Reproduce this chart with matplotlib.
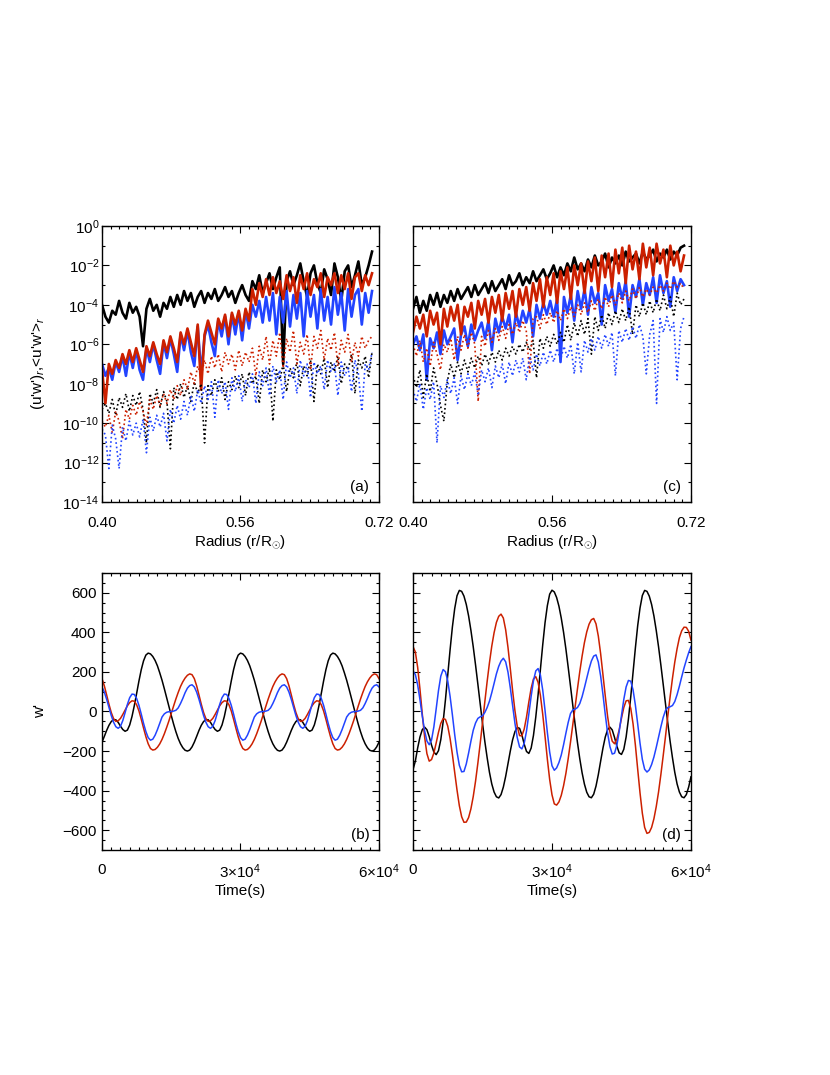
import numpy as np
import matplotlib
matplotlib.use("Agg")
import matplotlib.pyplot as plt
from matplotlib.ticker import FixedLocator, MultipleLocator, LogFormatterMathtext, NullFormatter, FixedFormatter

plt.rcParams['font.family'] = ['Liberation Sans', 'DejaVu Sans']
plt.rcParams['mathtext.fontset'] = 'custom'
plt.rcParams['mathtext.rm'] = 'Liberation Sans'
plt.rcParams['mathtext.it'] = 'Liberation Sans:italic'

RED = '#cc2000'
BLUE = '#2244ff'

# ---- top panels: log10 of flux profiles vs radius (r/Rsun)
radius = np.linspace(0.400, 0.712, 80)

a_black = [-4.0, -4.6, -4.9, -4.3, -4.5, -3.8, -4.4, -4.7, -3.9, -4.4,
           -4.1, -4.6, -6.1, -4.2, -3.7, -4.3, -4.0, -4.6, -3.9, -4.2,
           -3.6, -4.1, -3.5, -4.0, -3.3, -3.8, -3.4, -4.1, -3.6, -3.3,
           -3.9, -3.4, -3.7, -3.2, -3.8, -3.5, -3.1, -3.6, -3.3, -3.9,
           -3.4, -3.0, -3.5, -3.8, -2.8, -3.2, -2.5, -3.4, -2.9, -2.4,
           -3.2, -2.6, -2.1, -7.0, -2.8, -2.3, -3.0, -2.5, -1.9, -2.8,
           -3.6, -2.4, -2.0, -2.9, -3.4, -2.2, -2.7, -3.5, -1.9, -2.6,
           -3.8, -2.3, -2.0, -3.1, -2.5, -1.8, -3.0, -2.6, -2.0, -1.3]
a_red = [-7.3, -9.0, -7.0, -7.5, -6.8, -7.2, -6.5, -7.0, -6.3, -6.9,
         -6.2, -6.8, -7.4, -6.1, -6.6, -5.9, -6.5, -7.0, -5.8, -6.4,
         -5.6, -6.2, -6.9, -5.4, -6.0, -5.2, -5.9, -6.6, -5.0, -8.3,
         -5.5, -4.8, -5.4, -6.0, -4.7, -5.2, -4.5, -5.6, -4.4, -5.0,
         -4.3, -5.3, -4.2, -4.8, -3.2, -4.0, -2.9, -3.6, -2.7, -3.5,
         -2.6, -3.4, -2.8, -3.7, -2.5, -3.3, -2.6, -3.9, -2.5, -3.2,
         -2.4, -3.5, -2.7, -3.1, -2.4, -3.6, -2.6, -3.0, -2.4, -3.4,
         -2.5, -3.2, -2.4, -3.7, -2.6, -2.4, -3.3, -2.5, -3.0, -2.4]
a_blue = [-7.0, -7.6, -7.2, -7.8, -6.9, -7.4, -6.6, -7.6, -6.4, -7.2,
          -6.3, -7.3, -7.8, -6.2, -6.9, -6.0, -6.8, -7.5, -5.9, -6.7,
          -5.7, -6.5, -7.4, -5.5, -6.3, -5.3, -6.4, -7.1, -5.1, -7.5,
          -5.6, -5.0, -5.9, -6.6, -4.8, -5.6, -4.6, -6.0, -4.5, -5.5,
          -4.4, -5.8, -4.3, -5.2, -4.0, -4.6, -3.8, -4.9, -3.6, -4.8,
          -3.4, -5.5, -3.6, -4.9, -3.3, -5.1, -3.5, -4.7, -3.4, -5.6,
          -3.3, -4.6, -3.5, -5.2, -3.2, -4.8, -3.6, -5.0, -3.1, -4.5,
          -3.4, -5.3, -3.2, -4.6, -3.5, -3.2, -5.0, -3.4, -4.4, -3.3]
a_black_dot = [-9.3, -9.0, -9.5, -8.8, -9.6, -8.7, -9.2, -8.5, -9.4, -8.6,
               -9.1, -8.4, -9.3, -11.0, -8.5, -9.0, -8.3, -9.2, -8.4, -8.9,
               -11.3, -8.2, -8.8, -8.0, -8.7, -8.1, -8.9, -7.9, -8.5, -8.0,
               -11.0, -8.1, -8.6, -7.8, -8.4, -7.7, -8.8, -7.9, -8.3, -7.6,
               -8.2, -7.5, -8.6, -7.4, -8.0, -7.6, -9.0, -7.3, -7.9, -7.2,
               -9.9, -7.3, -7.8, -7.0, -8.4, -7.2, -7.7, -6.9, -8.1, -7.1,
               -7.6, -6.8, -8.9, -7.0, -7.5, -6.7, -8.2, -6.9, -7.4, -6.6,
               -8.0, -7.0, -7.3, -6.5, -8.5, -6.8, -7.2, -6.6, -7.7, -6.4]
a_red_dot = [-9.9, -10.2, -9.6, -10.5, -9.4, -9.9, -10.8, -9.3, -9.8, -9.1,
             -9.6, -8.9, -9.4, -10.1, -8.8, -9.3, -8.6, -9.1, -8.5, -9.0,
             -8.3, -8.8, -8.1, -8.6, -7.8, -8.3, -7.4, -8.0, -7.1, -7.6,
             -6.8, -7.5, -6.6, -7.2, -6.5, -7.4, -6.4, -7.0, -6.5, -7.3,
             -6.3, -7.1, -6.4, -6.9, -6.2, -7.6, -6.1, -6.8, -5.6, -7.0,
             -5.8, -6.6, -5.4, -7.2, -5.7, -6.4, -5.3, -7.0, -5.9, -6.5,
             -5.5, -7.3, -5.6, -6.2, -5.3, -6.8, -5.7, -6.3, -5.4, -7.1,
             -5.8, -6.4, -5.5, -6.9, -5.9, -6.6, -5.6, -6.2, -5.8, -5.6]
a_blue_dot = [-10.3, -10.6, -12.3, -10.1, -10.8, -12.3, -10.2, -10.9, -9.9, -10.6,
              -10.0, -10.7, -9.8, -11.5, -9.7, -10.4, -9.6, -10.2, -9.5, -10.9,
              -9.3, -10.0, -9.1, -9.8, -8.9, -9.6, -8.6, -9.4, -8.3, -9.0,
              -8.1, -8.8, -7.9, -9.7, -7.8, -8.5, -7.9, -9.3, -7.7, -8.4,
              -7.6, -8.9, -7.8, -8.2, -7.5, -9.0, -7.4, -8.1, -7.2, -8.6,
              -7.1, -7.9, -7.3, -8.8, -6.9, -7.7, -7.2, -8.5, -6.8, -7.6,
              -7.0, -8.7, -6.9, -7.5, -7.1, -8.3, -6.8, -7.4, -7.0, -8.6,
              -6.9, -7.6, -7.2, -8.4, -6.8, -7.5, -9.4, -7.0, -7.3, -6.4]

c_black = [-4.2, -3.6, -4.4, -3.8, -4.3, -3.5, -4.0, -3.4, -4.1, -3.5,
           -3.9, -3.3, -3.8, -3.2, -3.7, -3.4, -3.1, -3.6, -3.0, -3.5,
           -3.2, -2.9, -3.4, -2.8, -3.3, -3.0, -2.7, -3.2, -2.5, -3.0,
           -2.8, -2.4, -3.0, -2.6, -2.9, -2.3, -2.8, -2.5, -2.2, -2.7,
           -2.4, -2.0, -2.6, -2.1, -2.5, -1.9, -2.3, -1.6, -2.2, -1.9,
           -2.3, -1.7, -2.1, -1.5, -2.0, -1.8, -1.4, -2.1, -1.6, -1.9,
           -1.5, -2.0, -1.3, -1.8, -1.6, -1.4, -1.9, -1.3, -1.7, -1.5,
           -1.2, -1.8, -1.4, -1.6, -1.2, -1.7, -1.3, -1.5, -1.1, -1.0]
c_red = [-5.4, -4.6, -5.2, -4.5, -5.6, -4.3, -5.0, -4.4, -6.0, -4.2,
         -5.1, -4.1, -4.8, -4.0, -5.5, -4.1, -4.6, -3.9, -5.2, -3.8,
         -4.5, -3.7, -4.9, -3.6, -4.4, -3.5, -4.8, -3.4, -4.2, -3.3,
         -4.6, -3.2, -4.0, -3.1, -4.3, -2.9, -3.8, -2.7, -4.1, -2.6,
         -3.5, -2.4, -3.9, -2.3, -3.2, -2.1, -3.7, -2.0, -3.0, -1.9,
         -3.4, -1.8, -2.8, -1.6, -3.3, -1.5, -2.6, -1.4, -3.1, -1.2,
         -2.4, -1.1, -2.9, -1.0, -2.2, -1.3, -2.7, -0.9, -2.1, -1.1,
         -2.5, -0.9, -1.9, -1.2, -2.6, -1.0, -2.0, -1.3, -2.3, -1.5]
c_blue = [-6.0, -5.6, -6.3, -5.5, -7.8, -5.7, -6.2, -5.4, -6.5, -5.3,
          -6.0, -5.6, -5.2, -6.8, -5.5, -5.1, -6.1, -5.0, -5.8, -5.3,
          -4.9, -5.7, -4.8, -6.3, -4.7, -5.4, -4.6, -5.2, -4.5, -5.9,
          -4.4, -5.1, -4.3, -4.9, -4.2, -5.6, -4.0, -4.7, -3.9, -4.5,
          -3.8, -4.6, -3.7, -6.9, -3.6, -4.4, -3.5, -4.8, -3.3, -4.2,
          -3.2, -4.5, -3.1, -3.9, -3.4, -5.0, -3.0, -3.8, -3.2, -4.4,
          -2.9, -3.7, -2.8, -4.6, -3.0, -3.6, -2.7, -4.0, -2.9, -3.5,
          -2.6, -3.9, -2.5, -3.4, -2.8, -4.1, -2.6, -3.3, -2.7, -3.0]
c_black_dot = [-7.6, -8.2, -7.3, -8.7, -7.5, -8.4, -7.2, -8.0, -9.1, -9.9,
               -7.9, -7.0, -7.7, -6.9, -7.5, -6.8, -7.4, -6.7, -7.2, -6.6,
               -7.1, -6.5, -7.0, -6.4, -6.9, -6.3, -6.8, -6.2, -6.6, -6.1,
               -6.5, -6.0, -6.4, -5.9, -6.3, -5.8, -7.7, -5.7, -6.2, -5.6,
               -6.1, -5.5, -6.0, -5.4, -5.9, -5.0, -5.8, -4.9, -5.6, -4.8,
               -5.5, -4.7, -6.5, -4.6, -5.3, -4.5, -5.2, -4.4, -5.0, -4.3,
               -4.9, -4.2, -4.8, -4.1, -5.5, -4.0, -4.6, -3.9, -4.5, -3.8,
               -4.4, -3.7, -4.3, -3.5, -4.2, -3.6, -4.6, -3.4, -4.0, -3.7]
c_red_dot = [-6.0, -6.6, -5.8, -6.9, -6.2, -7.1, -5.9, -6.5, -7.3, -6.0,
             -6.4, -5.7, -6.8, -5.6, -6.3, -5.5, -6.2, -5.4, -6.0, -8.9,
             -5.6, -6.1, -5.3, -5.9, -5.2, -5.8, -5.1, -5.7, -5.0, -5.5,
             -4.9, -5.4, -4.8, -5.3, -7.5, -4.7, -4.6, -5.2, -4.5, -5.0,
             -4.4, -4.9, -4.3, -4.8, -4.2, -4.7, -4.1, -4.6, -4.0, -4.5,
             -3.9, -4.4, -3.8, -4.3, -3.7, -4.2, -3.6, -4.1, -3.5, -4.0,
             -3.4, -3.9, -3.3, -3.8, -3.2, -3.7, -3.1, -3.6, -3.2, -3.5,
             -3.1, -3.4, -3.0, -3.3, -2.9, -3.2, -2.8, -3.1, -2.9, -3.2]
c_blue_dot = [-8.3, -8.9, -8.0, -9.3, -8.2, -8.8, -7.9, -11.0, -8.1, -8.7,
              -7.8, -8.5, -7.7, -9.0, -7.6, -8.3, -7.5, -8.1, -7.4, -8.6,
              -7.3, -7.9, -7.2, -8.2, -7.1, -7.7, -7.0, -8.0, -6.9, -7.6,
              -6.8, -7.4, -6.7, -7.8, -6.6, -7.3, -6.5, -7.1, -6.4, -7.0,
              -6.3, -6.9, -6.2, -6.8, -6.1, -6.7, -6.0, -7.5, -5.9, -7.4,
              -5.8, -6.4, -5.7, -6.3, -5.6, -6.2, -5.5, -6.1, -5.4, -7.6,
              -5.3, -5.9, -5.2, -5.8, -5.1, -5.7, -5.0, -5.6, -7.5, -5.5,
              -4.8, -9.0, -4.7, -5.4, -4.6, -5.3, -4.9, -7.8, -5.2, -4.6]

# ---- bottom panels: w' time series, one sample every 500 s from t = 0
STEP = 500
b_black = [-155, -126, -96, -70, -51, -41, -42, -55, -74, -91,
           -100, -94, -68, -25, 30, 91, 154, 211, 256, 285,
           295, 291, 278, 258, 231, 196, 158, 115, 70, 25,
           -20, -63, -102, -136, -163, -183, -196, -200, -195, -179,
           -155, -126, -96, -70, -51, -41, -42, -55, -74, -91,
           -100, -94, -68, -25, 30, 91, 154, 211, 256, 285,
           295, 291, 278, 258, 231, 196, 158, 115, 70, 25,
           -20, -63, -102, -136, -163, -183, -196, -200, -195, -179,
           -155, -126, -96, -70, -51, -41, -42, -55, -74, -91,
           -100, -94, -68, -25, 30, 91, 154, 211, 256, 285,
           295, 291, 278, 258, 231, 196, 158, 115, 70, 25,
           -20, -63, -102, -136, -163, -183, -196, -200, -195, -179,
           -155]
b_red = [166, 130, 84, 37, -5, -36, -50, -47, -35, -15,
         7, 29, 45, 54, 52, 34, 3, -39, -84, -127,
         -163, -187, -195, -192, -181, -164, -141, -113, -81, -47,
         -10, 27, 63, 96, 126, 150, 169, 183, 190, 186,
         166, 130, 84, 37, -5, -36, -50, -47, -35, -15,
         7, 29, 45, 54, 52, 34, 3, -39, -84, -127,
         -163, -187, -195, -192, -181, -164, -141, -113, -81, -47,
         -10, 27, 63, 96, 126, 150, 169, 183, 190, 186,
         166, 130, 84, 37, -5, -36, -50, -47, -35, -15,
         7, 29, 45, 54, 52, 34, 3, -39, -84, -127,
         -163, -187, -195, -192, -181, -164, -141, -113, -81, -47,
         -10, 27, 63, 96, 126, 150, 169, 183, 190, 186,
         166]
b_blue = [124, 98, 62, 21, -20, -54, -77, -85, -75, -46,
          -6, 36, 70, 88, 86, 66, 31, -13, -60, -101,
          -132, -145, -140, -120, -92, -60, -28, -12, -4, -1,
          0, 2, 6, 18, 40, 66, 95, 118, 131, 135,
          124, 98, 62, 21, -20, -54, -77, -85, -75, -46,
          -6, 36, 70, 88, 86, 66, 31, -13, -60, -101,
          -132, -145, -140, -120, -92, -60, -28, -12, -4, -1,
          0, 2, 6, 18, 40, 66, 95, 118, 131, 135,
          124, 98, 62, 21, -20, -54, -77, -85, -75, -46,
          -6, 36, 70, 88, 86, 66, 31, -13, -60, -101,
          -132, -145, -140, -120, -92, -60, -28, -12, -4, -1,
          0, 2, 6, 18, 40, 66, 95, 118, 131, 135,
          124]

d_black = [-294, -251, -185, -129, -92, -79, -92, -127, -170, -205,
           -218, -198, -142, -53, 59, 185, 311, 427, 520, 585,
           612, 607, 583, 541, 483, 410, 327, 235, 138, 39,
           -59, -151, -233, -307, -366, -407, -431, -437, -420, -382,
           -328, -264, -200, -143, -102, -81, -85, -118, -165, -202,
           -212, -185, -121, -28, 84, 213, 337, 449, 535, 593,
           613, 604, 576, 532, 472, 400, 316, 223, 127, 29,
           -67, -157, -239, -310, -367, -408, -431, -436, -418, -377,
           -319, -251, -185, -129, -92, -79, -93, -131, -175, -209,
           -217, -191, -129, -38, 74, 198, 321, 434, 523, 586,
           612, 607, 583, 541, 483, 410, 327, 235, 138, 39,
           -59, -151, -233, -307, -366, -407, -431, -436, -420, -382,
           -330]
d_red = [328, 301, 224, 113, -12, -128, -213, -251, -243, -210,
         -159, -105, -60, -36, -40, -74, -136, -217, -308, -397,
         -476, -532, -560, -559, -536, -492, -430, -352, -261, -162,
         -57, 49, 151, 246, 330, 398, 450, 481, 492, 472,
         413, 324, 217, 105, 4, -75, -122, -123, -89, -28,
         48, 117, 164, 176, 147, 81, -14, -126, -241, -344,
         -421, -467, -473, -457, -424, -375, -313, -238, -154, -65,
         25, 115, 202, 280, 348, 402, 441, 464, 470, 443,
         381, 292, 186, 78, -24, -103, -150, -163, -140, -93,
         -34, 20, 54, 56, 16, -63, -170, -292, -411, -514,
         -586, -616, -611, -586, -542, -481, -407, -319, -224, -126,
         -23, 75, 167, 249, 317, 373, 408, 426, 425, 405,
         361]
d_blue = [205, 187, 135, 60, -23, -97, -149, -168, -144, -78,
          13, 106, 179, 212, 201, 154, 77, -17, -117, -205,
          -272, -305, -303, -265, -210, -150, -95, -58, -35, -27,
          -22, -5, 20, 52, 95, 142, 190, 228, 255, 269,
          251, 199, 120, 30, -59, -132, -179, -189, -161, -99,
          -13, 77, 155, 205, 217, 184, 108, 5, -106, -205,
          -274, -297, -285, -258, -220, -168, -110, -55, -10, 8,
          12, 20, 40, 75, 120, 168, 215, 255, 280, 286,
          250, 179, 86, -15, -108, -177, -215, -211, -171, -102,
          -21, 61, 124, 157, 153, 109, 32, -63, -160, -242,
          -292, -306, -295, -268, -230, -182, -130, -78, -30, 5,
          20, 24, 30, 50, 85, 128, 175, 220, 260, 297,
          328]

FS = 11


def style_axes(ax):
    ax.tick_params(which='both', direction='in', top=True, right=True, labelsize=FS)
    ax.tick_params(which='major', length=5, width=0.8)
    ax.tick_params(which='minor', length=2.5, width=0.8)
    for sp in ax.spines.values():
        sp.set_linewidth(1.0)


def top_panel(ax, solids, dots, tag, show_ylabels):
    bl, bu, rd = solids
    ax.plot(radius, 10.0 ** np.array(bl), color='black', lw=1.9)
    ax.plot(radius, 10.0 ** np.array(bu), color=BLUE, lw=1.9)
    ax.plot(radius, 10.0 ** np.array(rd), color=RED, lw=1.9)
    dbl, drd, dbu = dots
    ax.plot(radius, 10.0 ** np.array(dbl), color='black', lw=1.2, ls=':')
    ax.plot(radius, 10.0 ** np.array(drd), color=RED, lw=1.2, ls=':')
    ax.plot(radius, 10.0 ** np.array(dbu), color=BLUE, lw=1.2, ls=':')
    ax.set_yscale('log')
    ax.set_xlim(0.40, 0.72)
    ax.set_ylim(1e-14, 1e0)
    ax.yaxis.set_major_locator(FixedLocator([10.0 ** k for k in range(-14, 1, 2)]))
    ax.yaxis.set_minor_locator(FixedLocator([10.0 ** k for k in range(-13, 0, 2)]))
    ax.yaxis.set_major_formatter(LogFormatterMathtext())
    ax.yaxis.set_minor_formatter(NullFormatter())
    ax.xaxis.set_major_locator(FixedLocator([0.40, 0.56, 0.72]))
    ax.xaxis.set_major_formatter(FixedFormatter(['0.40', '0.56', '0.72']))
    ax.xaxis.set_minor_locator(MultipleLocator(0.01))
    style_axes(ax)
    ax.tick_params(axis='x', pad=10)
    ax.tick_params(axis='y', pad=2)
    ax.set_xlabel(r'Radius (r/R$_{\odot}$)', fontsize=FS, labelpad=3)
    if show_ylabels:
        ax.set_ylabel(r"(u'w')$_r$,<u'w'>$_r$", fontsize=FS)
        ax.yaxis.set_label_coords(-0.20, 0.5)
    else:
        ax.tick_params(axis='y', labelleft=False)
    ax.text(0.965, 0.03, tag, transform=ax.transAxes, ha='right', va='bottom', fontsize=FS)


def bottom_panel(ax, black, red, blue, tag, show_ylabels):
    t_black = STEP * np.arange(len(black))
    t_red = STEP * np.arange(len(red))
    t_blue = STEP * np.arange(len(blue))
    ax.plot(t_black, black, color='black', lw=1.1)
    # red series rises from 0 at t = 0
    ax.plot(np.concatenate([[0], t_red]), np.concatenate([[0], red]), color=RED, lw=1.1)
    ax.plot(t_blue, blue, color=BLUE, lw=1.1)
    ax.set_xlim(0, 6e4)
    ax.set_ylim(-700, 700)
    ax.xaxis.set_major_locator(FixedLocator([0, 3e4, 6e4]))
    ax.xaxis.set_major_formatter(FixedFormatter(['0', r'3$\times$10$^4$', r'6$\times$10$^4$']))
    ax.xaxis.set_minor_locator(MultipleLocator(2000))
    ax.yaxis.set_major_locator(MultipleLocator(200))
    ax.yaxis.set_minor_locator(MultipleLocator(50))
    style_axes(ax)
    ax.tick_params(axis='x', pad=9)
    ax.tick_params(axis='y', pad=4)
    ax.set_xlabel('Time(s)', fontsize=FS, labelpad=2)
    if show_ylabels:
        ax.set_ylabel("w'", fontsize=FS)
        ax.yaxis.set_label_coords(-0.20, 0.5)
    else:
        ax.tick_params(axis='y', labelleft=False)
    ax.text(0.965, 0.03, tag, transform=ax.transAxes, ha='right', va='bottom', fontsize=FS)


fig = plt.figure(figsize=(8.3, 10.75), dpi=100)
ax_a = fig.add_axes([0.1229, 0.533, 0.3337, 0.2568])
ax_c = fig.add_axes([0.4976, 0.533, 0.3349, 0.2568])
ax_b = fig.add_axes([0.1229, 0.2093, 0.3337, 0.2577])
ax_d = fig.add_axes([0.4976, 0.2093, 0.3349, 0.2577])

top_panel(ax_a, (a_black, a_blue, a_red), (a_black_dot, a_red_dot, a_blue_dot), '(a)', True)
top_panel(ax_c, (c_black, c_blue, c_red), (c_black_dot, c_red_dot, c_blue_dot), '(c)', False)
bottom_panel(ax_b, b_black, b_red, b_blue, '(b)', True)
bottom_panel(ax_d, d_black, d_red, d_blue, '(d)', False)

fig.savefig('out.png', dpi=100)
